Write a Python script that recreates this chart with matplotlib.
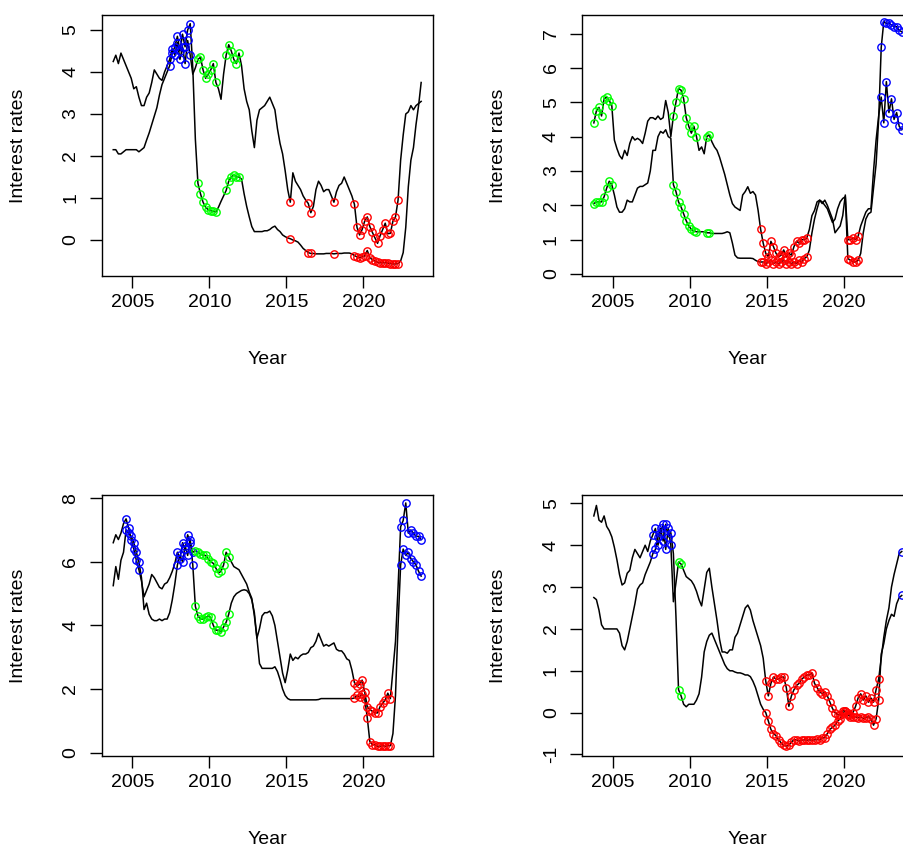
import numpy as np
import matplotlib
matplotlib.use("Agg")
import matplotlib.pyplot as plt

plt.rcParams['font.family'] = ['Liberation Sans', 'DejaVu Sans']

# Observation grid: two-month steps starting October 2003 (121 observations)
first_obs = 2003.75
obs_per_year = 6

# Regime colours (R base palette)
regime_colours = {'blue': '#0000ff', 'green': '#00ff00', 'red': '#ff0000'}

# ---- Panel 1 (top left) ----
p1_long = [
    4.25, 4.4, 4.2, 4.45, 4.3, 4.15,
    4.0, 3.85, 3.6, 3.65, 3.4, 3.2,
    3.2, 3.4, 3.5, 3.75, 4.05, 3.95,
    3.85, 3.8, 4.0, 4.15, 4.3, 4.55,
    4.4, 4.7, 4.3, 4.6, 4.2, 4.75,
    4.4, 3.95, 4.1, 4.3, 4.35, 4.05,
    3.85, 3.95, 4.05, 4.2, 3.75, 3.6,
    3.35, 3.95, 4.4, 4.65, 4.5, 4.3,
    4.2, 4.45, 4.15, 3.6, 3.3, 3.1,
    2.6, 2.2, 2.85, 3.1, 3.15, 3.2,
    3.3, 3.4, 3.25, 3.1, 2.65, 2.3,
    2.05, 1.65, 1.2, 0.9, 1.6, 1.4,
    1.3, 1.2, 1.05, 0.95, 0.87, 0.65,
    0.8, 1.2, 1.4, 1.3, 1.15, 1.2,
    1.2, 1.05, 0.9, 1.15, 1.3, 1.35,
    1.5, 1.35, 1.2, 1.05, 0.85, 0.3,
    0.12, 0.25, 0.45, 0.55, 0.32, 0.18,
    0.05, -0.08, 0.1, 0.25, 0.4, 0.15,
    0.16, 0.45, 0.55, 0.95, 1.9, 2.5,
    3.0, 3.05, 3.2, 3.1, 3.2, 3.25,
    3.3,
]
p1_short = [
    2.15, 2.15, 2.05, 2.05, 2.1, 2.15,
    2.15, 2.15, 2.15, 2.15, 2.1, 2.15,
    2.2, 2.38, 2.55, 2.75, 2.95, 3.15,
    3.45, 3.7, 3.85, 4.0, 4.15, 4.45,
    4.6, 4.85, 4.5, 4.9, 4.6, 5.0,
    5.15, 4.1, 2.4, 1.35, 1.1, 0.9,
    0.78, 0.72, 0.7, 0.68, 0.67, 0.78,
    0.92, 1.05, 1.18, 1.4, 1.5, 1.55,
    1.5, 1.5, 1.45, 1.1, 0.8, 0.55,
    0.32, 0.2, 0.2, 0.2, 0.2, 0.22,
    0.22, 0.25, 0.3, 0.33, 0.25, 0.2,
    0.12, 0.08, 0.05, 0.03, 0.0, -0.02,
    -0.05, -0.12, -0.2, -0.25, -0.3, -0.32,
    -0.32, -0.33, -0.33, -0.33, -0.33, -0.32,
    -0.32, -0.32, -0.33, -0.32, -0.32, -0.32,
    -0.31, -0.31, -0.31, -0.33, -0.37, -0.4,
    -0.42, -0.4, -0.38, -0.25, -0.42, -0.47,
    -0.5, -0.53, -0.54, -0.54, -0.54, -0.55,
    -0.56, -0.57, -0.57, -0.56, -0.5, -0.3,
    0.3, 1.27, 1.9, 2.2, 2.75, 3.2,
    3.75,
]
p1_regimes = [
    (2007.3, 2008.9, 'blue'),
    (2009.2, 2010.5, 'green'), (2010.95, 2012.05, 'green'),
    (2015.15, 2015.35, 'red'), (2016.35, 2016.7, 'red'),
    (2017.95, 2018.15, 'red'), (2019.3, 2022.3, 'red'),
]

# ---- Panel 2 (top right) ----
p2_upper = [
    4.4, 4.75, 4.85, 4.6, 5.1, 5.15,
    5.05, 4.9, 3.9, 3.65, 3.45, 3.35,
    3.6, 3.45, 3.8, 4.0, 3.9, 3.95,
    3.9, 3.8, 4.1, 4.45, 4.55, 4.55,
    4.5, 4.6, 4.5, 4.55, 5.05, 4.7,
    4.0, 4.6, 5.0, 5.4, 5.35, 5.1,
    4.55, 4.3, 4.1, 4.3, 4.0, 3.6,
    3.7, 3.5, 4.0, 4.05, 3.85, 3.7,
    3.6, 3.4, 3.15, 2.9, 2.6, 2.3,
    2.05, 1.95, 1.9, 1.85, 2.3, 2.4,
    2.54, 2.35, 2.4, 2.3, 1.86, 1.3,
    0.9, 0.6, 0.5, 0.95, 0.8, 0.6,
    0.5, 0.55, 0.7, 0.5, 0.6, 0.55,
    0.8, 0.95, 0.9, 1.0, 1.0, 1.05,
    1.3, 1.7, 1.85, 2.1, 2.15, 2.05,
    2.15, 2.0, 1.8, 1.6, 1.2, 1.3,
    1.4, 1.7, 2.3, 1.0, 1.0, 1.05,
    1.0, 1.1, 1.4, 1.6, 1.8, 1.9,
    1.9, 3.0, 3.9, 4.6, 5.15, 4.4,
    5.6, 4.7, 5.1, 4.5, 4.7, 4.3,
    4.2,
]
p2_lower = [
    2.05, 2.1, 2.1, 2.1, 2.25, 2.5,
    2.7, 2.6, 2.3, 1.95, 1.8, 1.8,
    1.9, 2.15, 2.1, 2.1, 2.3, 2.5,
    2.55, 2.55, 2.6, 2.65, 3.0, 3.6,
    3.6, 4.0, 4.15, 4.1, 4.2, 4.0,
    3.95, 2.6, 2.4, 2.1, 1.95, 1.75,
    1.55, 1.4, 1.3, 1.25, 1.23, 1.23,
    1.23, 1.23, 1.2, 1.2, 1.18, 1.18,
    1.18, 1.18, 1.18, 1.2, 1.23, 1.2,
    0.9, 0.55, 0.47, 0.46, 0.46, 0.46,
    0.46, 0.46, 0.45, 0.4, 0.36, 0.35,
    0.35, 0.3, 0.35, 0.4, 0.3, 0.35,
    0.3, 0.35, 0.4, 0.3, 0.35, 0.3,
    0.35, 0.3, 0.4, 0.35, 0.45, 0.5,
    0.7, 1.2, 1.6, 1.9, 2.15, 2.1,
    2.0, 1.9, 1.7, 1.5, 1.6, 1.9,
    2.1, 2.2, 2.25, 0.45, 0.4, 0.35,
    0.35, 0.4, 0.6, 1.2, 1.6, 1.75,
    1.8, 2.5, 3.2, 4.5, 6.6, 7.35,
    7.3, 7.3, 7.25, 7.2, 7.2, 7.1,
    7.05,
]
p2_regimes = [
    (2003.7, 2004.95, 'green'),
    (2008.9, 2010.45, 'green'), (2010.95, 2011.25, 'green'),
    (2014.5, 2017.7, 'red'), (2020.15, 2021.0, 'red'),
    (2022.35, 2023.8, 'blue'),
]

# ---- Panel 3 (bottom left) ----
p3_a = [
    6.6, 6.85, 6.7, 6.9, 7.2, 7.35,
    7.05, 6.7, 6.4, 6.05, 5.75, 5.4,
    4.9, 5.1, 5.3, 5.6, 5.5, 5.35,
    5.2, 5.15, 5.3, 5.35, 5.5, 5.7,
    5.95, 6.3, 6.1, 6.6, 6.4, 6.85,
    6.6, 6.3, 6.35, 6.3, 6.25, 6.2,
    6.2, 6.1, 6.0, 5.95, 5.8, 5.65,
    5.7, 5.9, 6.3, 6.15, 6.0, 5.85,
    5.8, 5.75, 5.6, 5.45, 5.3, 5.05,
    4.85, 4.3, 3.6, 3.9, 4.3, 4.4,
    4.4, 4.45, 4.3, 4.0, 3.5, 3.0,
    2.5, 2.2, 2.6, 3.1, 2.9, 3.0,
    2.95, 3.05, 3.1, 3.1, 3.15, 3.3,
    3.35, 3.5, 3.75, 3.55, 3.35, 3.4,
    3.35, 3.4, 3.45, 3.25, 3.2, 3.2,
    3.1, 2.95, 2.9, 2.6, 2.2, 2.1,
    2.15, 2.28, 1.9, 1.45, 1.35, 1.3,
    1.25, 1.25, 1.45, 1.55, 1.66, 1.87,
    1.7, 2.6, 3.5, 5.2, 7.1, 7.3,
    7.85, 6.9, 7.0, 6.9, 6.8, 6.8,
    6.7,
]
p3_b = [
    5.25, 5.85, 5.45, 6.05, 6.3, 7.0,
    6.9, 6.8, 6.6, 6.3, 6.0, 5.5,
    4.5, 4.7, 4.35, 4.2, 4.15, 4.15,
    4.2, 4.15, 4.2, 4.2, 4.4, 4.8,
    5.3, 5.9, 6.2, 6.0, 6.5, 6.2,
    6.7, 5.9, 4.6, 4.3, 4.2, 4.2,
    4.25, 4.3, 4.25, 4.0, 3.85, 3.85,
    3.8, 3.95, 4.1, 4.35, 4.7, 4.9,
    5.0, 5.05, 5.1, 5.12, 5.1, 5.0,
    4.8, 4.4, 3.6, 2.8, 2.65, 2.65,
    2.65, 2.65, 2.65, 2.7, 2.55, 2.3,
    2.0, 1.8, 1.7, 1.66, 1.66, 1.66,
    1.66, 1.66, 1.66, 1.66, 1.66, 1.66,
    1.66, 1.66, 1.67, 1.7, 1.7, 1.7,
    1.7, 1.7, 1.7, 1.7, 1.7, 1.7,
    1.7, 1.7, 1.7, 1.7, 1.72, 1.8,
    1.75, 1.85, 1.7, 1.1, 0.35, 0.25,
    0.25, 0.2, 0.2, 0.22, 0.2, 0.22,
    0.22, 0.6, 1.8, 4.0, 5.9, 6.4,
    6.2, 6.3, 6.1, 6.0, 5.9, 5.7,
    5.55,
]
p3_regimes = [
    (2004.5, 2005.45, 'blue'), (2007.85, 2008.95, 'blue'),
    (2009.05, 2011.4, 'green'),
    (2019.35, 2021.85, 'red'),
    (2022.3, 2023.8, 'blue'),
]

# ---- Panel 4 (bottom right) ----
p4_high = [
    4.7, 4.95, 4.6, 4.55, 4.7, 4.45,
    4.35, 4.2, 3.95, 3.65, 3.3, 3.05,
    3.1, 3.33, 3.4, 3.7, 3.9, 3.8,
    3.7, 3.85, 4.0, 3.85, 4.1, 4.25,
    4.4, 4.0, 4.3, 4.5, 3.9, 4.4,
    4.0, 2.65, 3.1, 3.6, 3.55, 3.4,
    3.25, 3.2, 3.15, 3.05, 2.9, 2.7,
    2.55, 2.95, 3.35, 3.45, 3.0, 2.6,
    2.2, 1.75, 1.45, 1.45, 1.42, 1.5,
    1.5, 1.8, 1.9, 2.1, 2.3, 2.5,
    2.57, 2.45, 2.2, 2.0, 1.8, 1.6,
    1.3, 0.75, 0.4, 0.7, 0.85, 0.8,
    0.8, 0.85, 0.85, 0.6, 0.15, 0.4,
    0.55, 0.65, 0.7, 0.8, 0.85, 0.9,
    0.9, 0.95, 0.7, 0.6, 0.5, 0.45,
    0.5, 0.4, 0.25, 0.1, 0.0, -0.05,
    -0.05, 0.05, 0.05, 0.0, -0.05, 0.0,
    0.15, 0.35, 0.45, 0.3, 0.4, 0.25,
    0.35, 0.25, 0.55, 0.8, 1.3, 1.8,
    2.2, 2.5, 3.0, 3.3, 3.55, 3.8,
    3.85,
]
p4_low = [
    2.75, 2.7, 2.45, 2.1, 2.0, 2.0,
    2.0, 2.0, 2.0, 2.0, 1.9, 1.6,
    1.5, 1.7, 2.0, 2.3, 2.6, 2.95,
    3.05, 3.1, 3.3, 3.45, 3.6, 3.8,
    3.9, 4.2, 4.4, 4.1, 4.5, 4.2,
    4.3, 3.8, 2.3, 0.55, 0.4, 0.2,
    0.14, 0.2, 0.2, 0.2, 0.3, 0.45,
    0.85, 1.45, 1.7, 1.85, 1.9, 1.75,
    1.6, 1.45, 1.3, 1.15, 1.05, 1.0,
    1.0, 0.97, 0.95, 0.95, 0.93, 0.9,
    0.9, 0.86, 0.75, 0.6, 0.4, 0.2,
    0.08, 0.0, -0.2, -0.4, -0.5, -0.55,
    -0.65, -0.72, -0.78, -0.8, -0.78, -0.7,
    -0.65, -0.65, -0.68, -0.66, -0.65, -0.66,
    -0.65, -0.66, -0.65, -0.64, -0.65, -0.6,
    -0.6, -0.5, -0.4, -0.35, -0.3, -0.2,
    -0.15, -0.02, 0.05, -0.05, -0.1, -0.1,
    -0.1, -0.12, -0.1, -0.14, -0.12, -0.1,
    -0.15, -0.3, -0.15, 0.3, 1.4, 1.65,
    2.0, 2.2, 2.35, 2.3, 2.6, 2.75,
    2.8,
]
p4_regimes = [
    (2007.55, 2008.9, 'blue'),
    (2009.2, 2009.5, 'green'),
    (2014.9, 2022.3, 'red'),
    (2023.7, 2023.8, 'blue'),
]

x_ticks = [2005, 2010, 2015, 2020]

FIG_W, FIG_H = 904, 849
panels = [
    dict(series=(p1_long, p1_short), regimes=p1_regimes,
         box=(101.7, 15, 331, 261), ylim=(-0.857, 5.357), yticks=[0, 1, 2, 3, 4, 5]),
    dict(series=(p2_upper, p2_lower), regimes=p2_regimes,
         box=(582.3, 15, 331, 261), ylim=(-0.058, 7.54), yticks=[0, 1, 2, 3, 4, 5, 6, 7]),
    dict(series=(p3_a, p3_b), regimes=p3_regimes,
         box=(101.7, 495, 331, 261), ylim=(-0.105, 8.10), yticks=[0, 2, 4, 6, 8]),
    dict(series=(p4_high, p4_low), regimes=p4_regimes,
         box=(582.3, 495, 331, 261), ylim=(-1.036, 5.20), yticks=[-1, 0, 1, 2, 3, 4, 5]),
]

fig = plt.figure(figsize=(FIG_W / 100, FIG_H / 100), dpi=100)
fs = 14

for p in panels:
    left, top, w, h = p['box']
    ax = fig.add_axes([left / FIG_W, 1 - (top + h) / FIG_H, w / FIG_W, h / FIG_H])
    n = len(p['series'][0])
    years = first_obs + np.arange(n) / obs_per_year

    for s in p['series']:
        ax.plot(years, s, color='black', lw=1.1, zorder=2)

    for s in p['series']:
        vals = np.asarray(s)
        for a, b, col in p['regimes']:
            m = (years >= a) & (years <= b)
            ax.plot(years[m], vals[m], linestyle='none', marker='o', ms=5.3,
                    mfc='none', mec=regime_colours[col], mew=1.0, zorder=3)

    ax.set_xlim(2003.0, 2024.5)
    ax.set_ylim(*p['ylim'])
    ax.set_xticks(x_ticks)
    ax.set_xticklabels([str(t) for t in x_ticks], fontsize=fs)
    ax.set_yticks(p['yticks'])
    ax.set_yticklabels([str(t) for t in p['yticks']], fontsize=fs,
                       rotation=90, va='center')
    ax.tick_params(axis='both', direction='out', length=8.6, width=1.0,
                   top=False, right=False)
    ax.tick_params(axis='x', pad=4.5)
    ax.tick_params(axis='y', pad=7.5)
    for sp in ax.spines.values():
        sp.set_linewidth(1.0)

    fig.text((left + w / 2) / FIG_W, 1 - (top + h + 84) / FIG_H, 'Year',
             ha='center', va='center', fontsize=fs)
    fig.text((left - 83.5) / FIG_W, 1 - (top + h / 2) / FIG_H, 'Interest rates',
             ha='center', va='center', rotation=90, fontsize=fs)

fig.savefig('out.png', dpi=100)
